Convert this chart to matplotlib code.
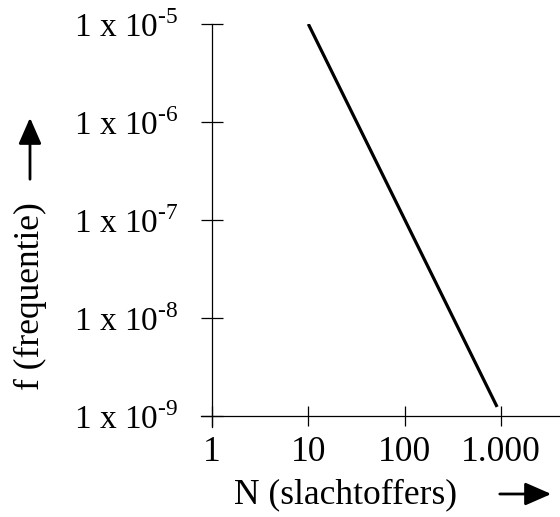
import matplotlib
matplotlib.use("Agg")
import matplotlib.pyplot as plt
from matplotlib.patches import FancyArrowPatch

# data
N = [10, 910]
f = [1e-5, 1.25e-9]
xticks = [1, 10, 100, 1000]
xlabels = ["1", "10", "100", "1.000"]
yticks = [1e-9, 1e-8, 1e-7, 1e-6, 1e-5]
ylabels = ["1 x 10$^{\\text{-9}}$", "1 x 10$^{\\text{-8}}$", "1 x 10$^{\\text{-7}}$",
           "1 x 10$^{\\text{-6}}$", "1 x 10$^{\\text{-5}}$"]

plt.rcParams["font.family"] = "Liberation Serif"
plt.rcParams["mathtext.fontset"] = "custom"
plt.rcParams["mathtext.rm"] = "Liberation Serif"

fig = plt.figure(figsize=(5.6, 5.17), dpi=100)
ax = fig.add_axes([201/560, 1-427/517, 1-201/560, (427-24)/517])

ax.plot(N, f, color="black", lw=2.3, solid_capstyle="butt")
ax.set_xscale("log")
ax.set_yscale("log")
ax.set_xlim(0.77, 4090)
ax.set_ylim(0.78e-9, 1e-5)

ax.spines["top"].set_visible(False)
ax.spines["right"].set_visible(False)
ax.spines["left"].set_position(("data", 1))
ax.spines["bottom"].set_position(("data", 1e-9))
for s in ["left", "bottom"]:
    ax.spines[s].set_linewidth(0.9)

ax.set_xticks(xticks)
ax.set_xticklabels(xlabels)
ax.set_yticks(yticks)
ax.set_yticklabels(ylabels)
ax.minorticks_off()
ax.tick_params(axis="y", direction="inout", length=16, width=0.9, labelsize=24, pad=16)
ax.tick_params(axis="x", direction="inout", length=14, width=0.9, labelsize=25.5, pad=7)

fig.text(0.617, 0.043, "N (slachtoffers)", fontsize=25.5, ha="center", va="center")
fig.text(0.054, 0.4265, "f (frequentie)", fontsize=25.5, ha="center", va="center", rotation=90)

# arrows next to axis labels
fig.patches.append(FancyArrowPatch(
    (497/560, 1-494/517), (554/560, 1-494/517), transform=fig.transFigure,
    arrowstyle="-|>,head_length=16,head_width=7", mutation_scale=1, color="black", lw=2))
fig.patches.append(FancyArrowPatch(
    (30/560, 1-182/517), (30/560, 1-115/517), transform=fig.transFigure,
    arrowstyle="-|>,head_length=16,head_width=7", mutation_scale=1, color="black", lw=2))

fig.savefig("out.png", dpi=100)
